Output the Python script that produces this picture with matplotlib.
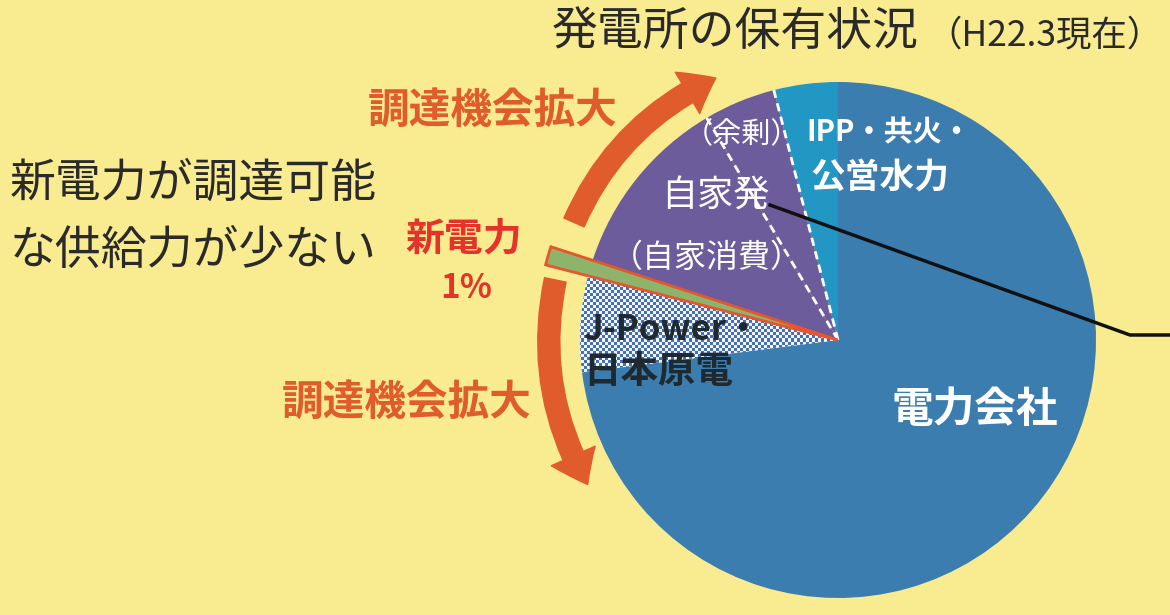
import numpy as np
import matplotlib.pyplot as plt
from matplotlib.patches import FancyArrowPatch
from matplotlib.colors import ListedColormap

plt.rcParams['font.family'] = ['Noto Sans CJK JP', 'DejaVu Sans']

# shares of generating capacity (%), counter-clockwise from 12 o'clock
owners = ['IPP・共火・公営水力', '自家発（余剰）', '自家発（自家消費）', '新電力', 'J-Power・日本原電', '電力会社']
shares = [4, 4.5, 11.5, 1, 6, 73]
colors = ['#2297C4', '#6C5C9C', '#6C5C9C', '#8DB46A', '#FFFFFF', '#3C7DB0']

H = 615  # image height, y below is written as H - y_pixel
cx, cy, R = 838, H - 340, 258
bg = '#F8EB90'
orange = '#E05C2C'

fig = plt.figure(figsize=(11.7, 6.15), dpi=100, facecolor=bg)
ax = fig.add_axes([0, 0, 1, 1])
ax.set_facecolor(bg)

wedges, _ = ax.pie(shares, colors=colors, startangle=90, counterclock=True,
                   center=(cx, cy), radius=R, wedgeprops=dict(linewidth=0))

# 新電力 sliver sticks out of the pie
w_new = wedges[3]
w_new.set_radius(R * 1.17)
w_new.set_edgecolor('#E8542C')
w_new.set_linewidth(2)
w_new.set_zorder(5)

# checker texture for J-Power / 日本原電
w_jp = wedges[4]
cell = 3
nx, ny = 300 // cell, 160 // cell
checker = np.indices((ny, nx)).sum(axis=0) % 2
im = ax.imshow(checker, cmap=ListedColormap(['#F3F5FA', '#4470B8']),
               extent=(560, 860, H - 420, H - 260), interpolation='nearest',
               aspect='auto', zorder=2)
im.set_clip_path(w_jp)

# dashed white edges of the 余剰 slice
for ang in (wedges[1].theta1, wedges[1].theta2):
    t = np.radians(ang)
    ax.plot([cx, cx + R * np.cos(t)], [cy, cy + R * np.sin(t)],
            color='white', lw=2, ls=(0, (3, 2)), zorder=4)

# curved arrows around the pie
pt = 72 / 100
def arc_arrow(a0, a1, r, rad):
    p0 = (cx + r * np.cos(np.radians(a0)), cy + r * np.sin(np.radians(a0)))
    p1 = (cx + r * np.cos(np.radians(a1)), cy + r * np.sin(np.radians(a1)))
    ax.add_patch(FancyArrowPatch(
        p0, p1, connectionstyle=f'arc3,rad={rad}',
        arrowstyle=f'simple,tail_width={22 * pt},head_width={48 * pt},head_length={32 * pt}',
        color=orange, shrinkA=0, shrinkB=0, mutation_scale=1, zorder=3))

arc_arrow(156, 115, 289, -0.19)
arc_arrow(168, 210, 289, 0.19)

# leader line from 自家発
ax.plot([770, 1130, 1175], [H - 205, H - 335, H - 335], color='#111111', lw=2.5, zorder=6)

# texts
ax.text(552, H - 32, '発電所の保有状況', fontsize=33, color='#2A2A2A', va='center')
ax.text(926, H - 36, '（H22.3現在）', fontsize=25.5, color='#2A2A2A', va='center')
ax.text(10, H - 183, '新電力が調達可能', fontsize=33, color='#2A2A2A', va='center')
ax.text(10, H - 251, 'な供給力が少ない', fontsize=33, color='#2A2A2A', va='center')
ax.text(368, H - 111, '調達機会拡大', fontsize=30, color=orange, fontweight='bold', va='center')
ax.text(282, H - 403, '調達機会拡大', fontsize=30, color=orange, fontweight='bold', va='center')
ax.text(464, H - 239, '新電力', fontsize=28, color='#E63228', fontweight='bold', va='center', ha='center')
ax.text(466, H - 289, '1%', fontsize=24, color='#E63228', fontweight='bold', va='center', ha='center')
ax.text(742, H - 135, '（余剰）', fontsize=21, color='white', va='center', ha='center', zorder=7)
ax.text(715, H - 197, '自家発', fontsize=26, color='white', va='center', ha='center', zorder=7)
ax.text(707, H - 258, '（自家消費）', fontsize=23, color='white', va='center', ha='center', zorder=7)
ax.text(806, H - 132, 'IPP・共火・', fontsize=21, color='white', fontweight='bold', va='center', ha='left', zorder=7)
ax.text(880, H - 178, '公営水力', fontsize=25, color='white', fontweight='bold', va='center', ha='center', zorder=7)
ax.text(583, H - 329, 'J-Power・', fontsize=25, color='#1E2A30', fontweight='bold', va='center', zorder=7)
ax.text(583, H - 372, '日本原電', fontsize=27, color='#1E2A30', fontweight='bold', va='center', zorder=7)
ax.text(975, H - 410, '電力会社', fontsize=30, color='white', fontweight='bold', va='center', ha='center', zorder=7)

ax.set_xlim(0, 1170)
ax.set_ylim(0, H)
ax.set_aspect('auto')
ax.axis('off')

fig.savefig('out.png', dpi=100, facecolor=bg)
